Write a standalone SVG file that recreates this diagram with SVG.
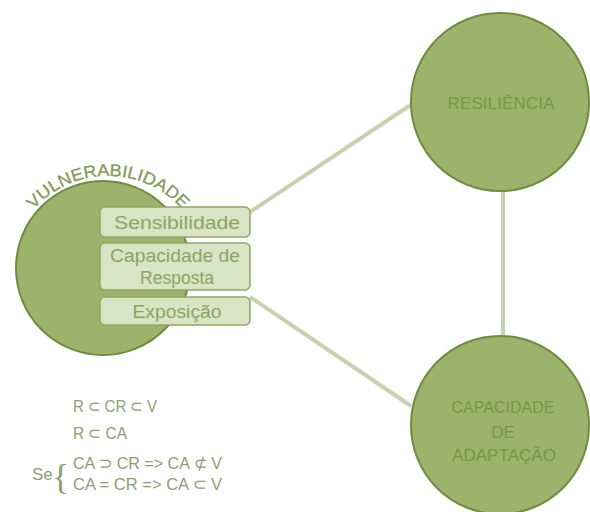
<svg xmlns="http://www.w3.org/2000/svg" width="590" height="512" viewBox="0 0 590 512">
<style>
.circ{fill:#9cb36b;stroke:#6f8c3e;stroke-width:2}
.ctext{font-family:"Liberation Sans",Arial,sans-serif;font-size:17px;fill:#779741;text-anchor:middle}
.box{fill:#d9e4c4;stroke:#8ea866;stroke-width:1.5}
.btext{font-family:"Liberation Sans",Arial,sans-serif;font-size:18px;fill:#8ca264;text-anchor:middle}
.conn{stroke:#c6d2ae;stroke-width:4;fill:none}
.ftext{font-family:"Liberation Sans",Arial,sans-serif;font-size:17px;fill:#8e9e72}
</style>
<defs>
<path id="arc" d="M 10,272 A 98 96 0 0 1 206,272"/>
</defs>
<rect width="590" height="512" fill="#ffffff"/>
<g id="connectors">
<line class="conn" x1="250" y1="212" x2="412" y2="104"/>
<line class="conn" x1="250" y1="297" x2="411" y2="406"/>
<line class="conn" x1="503" y1="190" x2="503" y2="338"/>
</g>
<g id="resiliencia">
<circle class="circ" cx="500" cy="102" r="89"/>
<text class="ctext" x="501" y="109" textLength="107" lengthAdjust="spacingAndGlyphs">RESILIÊNCIA</text>
</g>
<g id="capacidade-adaptacao">
<circle class="circ" cx="500" cy="425" r="89"/>
<text class="ctext" x="503" y="413" textLength="103" lengthAdjust="spacingAndGlyphs">CAPACIDADE</text>
<text class="ctext" x="503" y="438">DE</text>
<text class="ctext" x="504" y="461" textLength="104" lengthAdjust="spacingAndGlyphs">ADAPTAÇÃO</text>
</g>
<g id="vulnerabilidade">
<circle class="circ" cx="103" cy="268" r="87"/>
<text font-family="Liberation Sans, Arial, sans-serif" font-size="17" fill="#86995c" stroke="#86995c" stroke-width="0.3" text-anchor="middle"><textPath href="#arc" startOffset="50%" textLength="168" lengthAdjust="spacingAndGlyphs">VULNERABILIDADE</textPath></text>
</g>
<g id="sensibilidade">
<rect class="box" x="100" y="207" width="150" height="30" rx="5"/>
<text class="btext" x="177" y="229" textLength="126" lengthAdjust="spacingAndGlyphs">Sensibilidade</text>
</g>
<g id="capacidade-resposta">
<rect class="box" x="100" y="243" width="150" height="47" rx="5"/>
<text class="btext" x="175" y="262" textLength="130" lengthAdjust="spacingAndGlyphs">Capacidade de</text>
<text class="btext" x="177" y="284" textLength="74" lengthAdjust="spacingAndGlyphs">Resposta</text>
</g>
<g id="exposicao">
<rect class="box" x="100" y="297" width="150" height="28" rx="5"/>
<text class="btext" x="177" y="318" textLength="89" lengthAdjust="spacingAndGlyphs">Exposição</text>
</g>
<g id="formulas">
<text class="ftext" x="73" y="412" textLength="84" lengthAdjust="spacingAndGlyphs">R ⊂ CR ⊂ V</text>
<text class="ftext" x="73" y="439" textLength="54" lengthAdjust="spacingAndGlyphs">R ⊂ CA</text>
<text class="ftext" x="32" y="480" style="font-size:17px">Se</text>
<text class="ftext" x="52" y="489" style="font-size:36px;font-family:'Liberation Serif',serif">{</text>
<text class="ftext" x="73" y="469" textLength="149" lengthAdjust="spacingAndGlyphs">CA ⊃ CR =&gt; CA ⊄ V</text>
<text class="ftext" x="73" y="490" textLength="149" lengthAdjust="spacingAndGlyphs">CA = CR =&gt; CA ⊂ V</text>
</g>
</svg>
